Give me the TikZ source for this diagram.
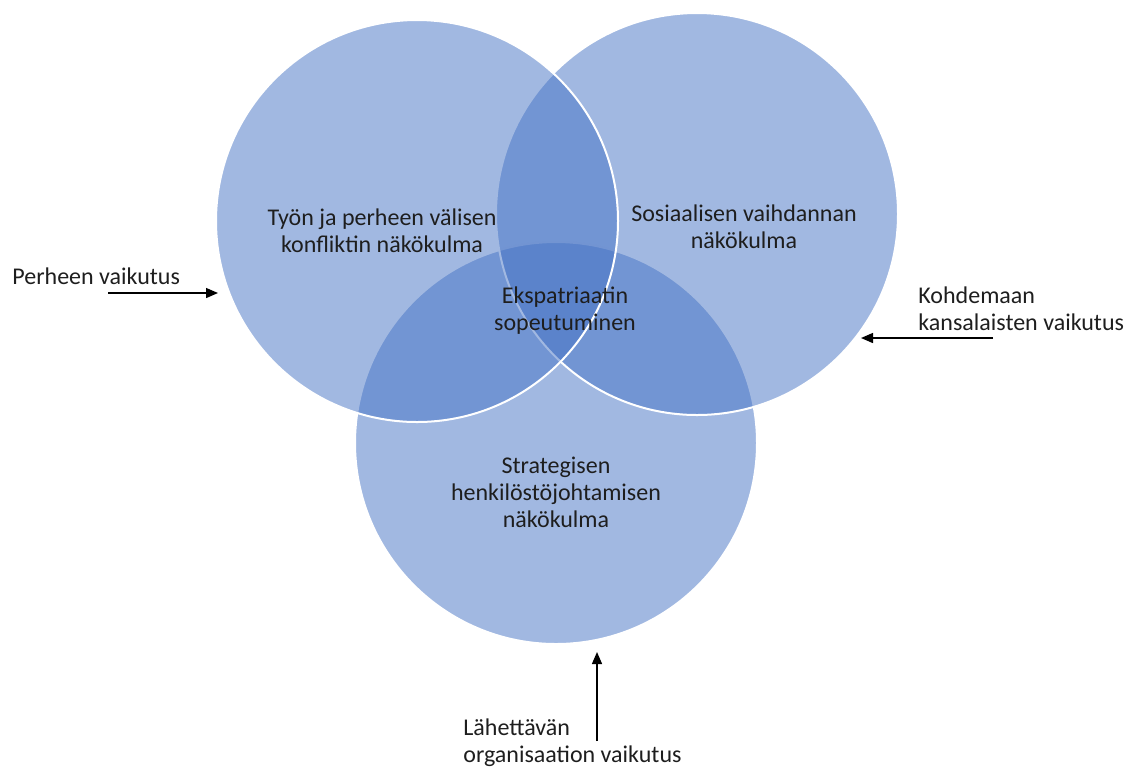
\documentclass[tikz,border=0pt]{standalone}
\usepackage{fontspec}
\setmainfont{Carlito}
\usetikzlibrary{arrows.meta}
\definecolor{vennsin}{HTML}{4472C4}
\definecolor{tekstiv}{HTML}{1E1E1E}

\begin{document}
\begin{tikzpicture}[x=0.5pt,y=-0.5pt,
  venn/.style={circle,minimum size=201pt,inner sep=0pt,fill=vennsin,fill opacity=0.5,draw=white,line width=1pt},
  teksti/.style={align=center,text=tekstiv,font=\fontsize{12}{13.5}\selectfont,inner sep=0pt},
  nuoli/.style={-{Triangle[length=6pt,width=5pt]},line width=0.7pt}]
\useasboundingbox (0,0) rectangle (1128,773);
% 三个圆
\node[venn] (strat) at (556,443) {};
\node[venn] (sos) at (697,214) {};
\node[venn] (tyo) at (417,221) {};

% 圆内文字
\node[teksti] (tyoteksti) at (382,231) {Työn ja perheen välisen\\konfliktin näkökulma};
\node[teksti] (sosteksti) at (744,227) {Sosiaalisen vaihdannan\\näkökulma};
\node[teksti] (ekspat) at (565,311) {Ekspatriaatin\\sopeutuminen};
\node[teksti] (stratteksti) at (556,492) {Strategisen\\henkilöstöjohtamisen\\näkökulma};

% 外部影响及箭头
\node[teksti,align=left,anchor=west] (perhe) at (12,276) {Perheen vaikutus};
\coordinate (perhealku) at (108,293);
\coordinate (perheloppu) at (218,293);
\draw[nuoli] (perhealku) -- (perheloppu);

\node[teksti,align=left,anchor=west] (kohde) at (918,309) {Kohdemaan\\kansalaisten vaikutus};
\coordinate (kohdealku) at (993,338);
\coordinate (kohdeloppu) at (861,338);
\draw[nuoli] (kohdealku) -- (kohdeloppu);

\node[teksti,align=left,anchor=west] (lahettava) at (463,743) {Lähettävän\\organisaation vaikutus};
\coordinate (orgalku) at (597,741);
\coordinate (orgloppu) at (597,652);
\draw[nuoli] (orgalku) -- (orgloppu);
\end{tikzpicture}
\end{document}
